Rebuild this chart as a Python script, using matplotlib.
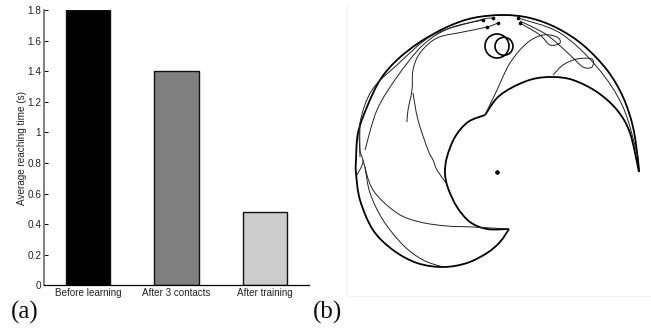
import matplotlib
matplotlib.use("Agg")
import matplotlib.pyplot as plt
from matplotlib.path import Path
from matplotlib.patches import PathPatch

W = 651
H = 331

# panel a
labels = ["Before learning", "After 3 contacts", "After training"]
times = [1.80, 1.403, 0.477]
bar_colors = ["#000000", "#808080", "#cccccc"]
yticks = [0, 0.2, 0.4, 0.6, 0.8, 1, 1.2, 1.4, 1.6, 1.8]
ytick_labels = ["0", "0.2", "0.4", "0.6", "0.8", "1", "1.2", "1.4", "1.6", "1.8"]

# panel b in pixels
outer_x = [639, 638, 633, 623, 607, 583, 557, 530, 503, 473, 447, 420, 397, 380, 367, 358, 356,
           356, 360, 373, 393, 417, 443, 467, 487, 500, 509]
outer_y = [172, 160, 127, 97, 70, 45, 28, 18, 15, 18, 27, 42, 60, 80, 107, 133, 160,
           173, 200, 230, 250, 263, 267, 263, 253, 242, 229]
inner1_x = [509, 487, 470, 457, 448, 445, 447, 455, 468, 485]
inner1_y = [229, 229, 222, 207, 188, 173, 157, 137, 122, 115]
inner2_x = [485, 497, 513, 533, 553, 573, 597, 617, 630, 639]
inner2_y = [115, 98, 87, 79, 77, 80, 92, 110, 133, 172]

traj1_x = [407, 408, 412, 413, 420, 437, 463, 487, 498]
traj1_y = [122, 110, 90, 70, 53, 38, 32, 27, 23]
traj2_x = [413, 418, 428, 433, 437, 446]
traj2_y = [93, 120, 150, 160, 170, 183]
traj3_x = [485, 497, 510, 527, 543, 557, 560, 550, 540, 520]
traj3_y = [115, 90, 63, 43, 35, 37, 43, 45, 35, 23]
traj4_x = [553, 563, 577, 592, 592, 583, 570, 547, 520]
traj4_y = [75, 65, 59, 59, 67, 67, 55, 35, 21]
traj5_x = [518, 560, 597, 623, 638]
traj5_y = [18, 33, 67, 107, 157]
traj6_x = [360, 360, 372, 397, 433, 480, 493]
traj6_y = [157, 123, 90, 65, 35, 20, 18]
traj7_x = [365, 377, 397, 423, 450, 483]
traj7_y = [150, 110, 77, 45, 28, 20]
traj8_x = [363, 373, 397, 420, 447, 473, 509]
traj8_y = [160, 190, 213, 222, 226, 227, 229]
traj9_x = [365, 370, 383, 403, 423, 443]
traj9_y = [167, 193, 220, 245, 260, 267]
traj10_x = [357, 363, 360, 360]
traj10_y = [175, 162, 150, 125]
trajectories = [(traj1_x, traj1_y), (traj2_x, traj2_y), (traj3_x, traj3_y), (traj4_x, traj4_y),
                (traj5_x, traj5_y), (traj6_x, traj6_y), (traj7_x, traj7_y), (traj8_x, traj8_y),
                (traj9_x, traj9_y), (traj10_x, traj10_y)]

start_x = [497]
start_y = [172]
end_x = [498, 487, 520, 518, 493, 483]
end_y = [23, 27, 23, 18, 18, 20]
goal_x = [497, 504]
goal_y = [46, 46.3]
goal_r = [12, 9]


def smooth_path(xs, ys):
    # bezier through the read points so the line is not drawn with corners
    pts = list(zip(xs, ys))
    verts = [pts[0]]
    codes = [Path.MOVETO]
    for i in range(len(pts) - 1):
        p0 = pts[max(i - 1, 0)]
        p1 = pts[i]
        p2 = pts[i + 1]
        p3 = pts[min(i + 2, len(pts) - 1)]
        c1 = (p1[0] + (p2[0] - p0[0]) / 6, p1[1] + (p2[1] - p0[1]) / 6)
        c2 = (p2[0] - (p3[0] - p1[0]) / 6, p2[1] - (p3[1] - p1[1]) / 6)
        verts += [c1, c2, p2]
        codes += [Path.CURVE4, Path.CURVE4, Path.CURVE4]
    return Path(verts, codes)


fig = plt.figure(figsize=(W / 100, H / 100), dpi=100)
plt.rcParams["font.family"] = "Liberation Sans"

# bar chart
ax = fig.add_axes([44 / W, (H - 285.3) / H, 265 / W, 275.3 / H])
ax.bar([1, 2, 3], times, width=0.5, color=bar_colors, edgecolor="#111111", linewidth=1)
ax.set_xlim(0.5, 3.5)
ax.set_ylim(0, 1.8)
ax.set_xticks([1, 2, 3])
ax.set_xticklabels(labels, fontsize=7.1, color="#222222", family="Liberation Sans")
ax.set_yticks(yticks)
ax.set_yticklabels(ytick_labels, fontsize=7.2, color="#222222", family="Liberation Sans")
ax.set_ylabel("Average reaching time (s)", fontsize=7.2, color="#222222", family="Liberation Sans", labelpad=0)
ax.tick_params(axis="y", direction="in", length=3, width=0.7, pad=2)
ax.tick_params(axis="x", length=0, pad=2)
ax.spines["top"].set_visible(False)
ax.spines["right"].set_visible(False)
ax.spines["left"].set_color("#808080")
ax.spines["left"].set_linewidth(1.4)
ax.spines["bottom"].set_linewidth(0.9)
ax.patch.set_alpha(0)

# trajectories, data units are picture pixels
ax2 = fig.add_axes([0, 0, 1, 1])
ax2.set_xlim(0, W)
ax2.set_ylim(H, 0)
ax2.axis("off")
ax2.patch.set_alpha(0)
ax2.plot([347, 347, 651], [5, 296, 296], color="#f2f2f2", lw=0.8)
for xs, ys in [(outer_x, outer_y), (inner1_x, inner1_y), (inner2_x, inner2_y)]:
    ax2.add_patch(PathPatch(smooth_path(xs, ys), fill=False, ec="black", lw=1.3))
for tx, ty in trajectories:
    ax2.add_patch(PathPatch(smooth_path(tx, ty), fill=False, ec="#222222", lw=0.7))
for cx, cy, r in zip(goal_x, goal_y, goal_r):
    ax2.add_patch(plt.Circle((cx, cy), r, fill=False, ec="black", lw=1.2))
ax2.plot(start_x, start_y, "D", color="black", ms=2)
ax2.plot(end_x, end_y, "o", color="black", ms=1.6)

ax2.text(11, 319, "(a)", fontsize=18, family="Liberation Serif", color="#111111")
ax2.text(313, 319, "(b)", fontsize=18, family="Liberation Serif", color="#111111")

fig.savefig("out.png", dpi=100)
